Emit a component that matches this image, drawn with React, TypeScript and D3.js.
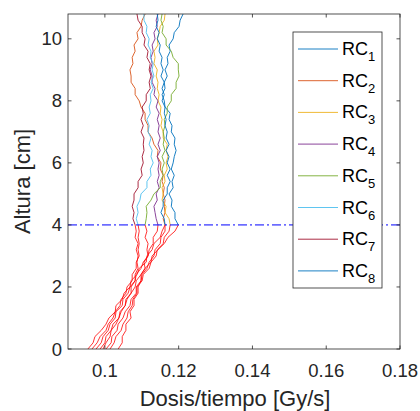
import React from "react";
import * as d3 from "d3";

// Heights (cm)
const alturas = [0,0.2,0.4,0.6,0.8,1,1.2,1.4,1.6,1.8,2,2.2,2.4,2.6,2.8,3,3.2,3.4,3.6,3.8,4,
  4.2,4.4,4.6,4.8,5,5.2,5.4,5.6,5.8,6,6.2,6.4,6.6,6.8,7,7.2,7.4,7.6,7.8,8,8.2,8.4,8.6,8.8,9,9.2,9.4,9.6,9.8,10,10.2,10.4,10.6,10.8];

// Dose rate (Gy/s) per series at each height
const rc1 = [0.0995,0.1003,0.1014,0.1017,0.1030,0.1038,0.1044,0.1055,0.1060,0.1071,0.1082,0.1085,0.1098,0.1109,0.1125,0.1128,0.1144,0.1161,0.1171,0.1190,0.1199,
  0.1190,0.1190,0.1180,0.1182,0.1174,0.1185,0.1182,0.1188,0.1180,0.1185,0.1188,0.1193,0.1188,0.1190,0.1180,0.1182,0.1174,0.1177,0.1163,0.1161,0.1155,0.1163,0.1161,0.1169,0.1163,0.1171,0.1169,0.1177,0.1174,0.1185,0.1188,0.1201,0.1204,0.1212];
const rc2 = [0.0954,0.0968,0.0973,0.0990,0.1003,0.1011,0.1028,0.1030,0.1047,0.1052,0.1068,0.1071,0.1087,0.1093,0.1112,0.1114,0.1128,0.1133,0.1150,0.1155,0.1163,
  0.1158,0.1163,0.1161,0.1163,0.1158,0.1161,0.1155,0.1158,0.1150,0.1152,0.1142,0.1144,0.1133,0.1128,0.1117,0.1117,0.1109,0.1109,0.1098,0.1093,0.1082,0.1082,0.1071,0.1071,0.1068,0.1076,0.1074,0.1082,0.1079,0.1090,0.1087,0.1098,0.1101,0.1109];
const rc3 = [0.1014,0.1025,0.1030,0.1044,0.1049,0.1060,0.1063,0.1074,0.1076,0.1087,0.1087,0.1101,0.1104,0.1120,0.1125,0.1139,0.1142,0.1158,0.1161,0.1174,0.1177,
  0.1174,0.1163,0.1166,0.1155,0.1158,0.1155,0.1163,0.1161,0.1169,0.1166,0.1171,0.1166,0.1169,0.1158,0.1158,0.1152,0.1155,0.1150,0.1152,0.1144,0.1147,0.1142,0.1144,0.1139,0.1142,0.1133,0.1136,0.1133,0.1144,0.1142,0.1147,0.1150,0.1161,0.1163];
const rc4 = [0.0976,0.0990,0.0995,0.1009,0.1014,0.1028,0.1030,0.1047,0.1049,0.1063,0.1068,0.1082,0.1085,0.1098,0.1104,0.1117,0.1120,0.1131,0.1131,0.1142,0.1144,
  0.1139,0.1136,0.1133,0.1142,0.1139,0.1147,0.1142,0.1147,0.1144,0.1147,0.1142,0.1150,0.1144,0.1150,0.1144,0.1147,0.1142,0.1147,0.1139,0.1144,0.1133,0.1136,0.1128,0.1128,0.1123,0.1128,0.1125,0.1131,0.1128,0.1136,0.1133,0.1142,0.1139,0.1144];
const rc5 = [0.1036,0.1047,0.1047,0.1057,0.1057,0.1071,0.1068,0.1079,0.1079,0.1090,0.1090,0.1098,0.1098,0.1109,0.1106,0.1117,0.1114,0.1117,0.1109,0.1114,0.1109,
  0.1112,0.1114,0.1112,0.1125,0.1133,0.1150,0.1150,0.1158,0.1155,0.1161,0.1155,0.1163,0.1158,0.1161,0.1158,0.1163,0.1161,0.1169,0.1169,0.1180,0.1180,0.1193,0.1193,0.1201,0.1199,0.1199,0.1185,0.1180,0.1166,0.1166,0.1155,0.1158,0.1152,0.1155];
const rc6 = [0.0965,0.0979,0.0987,0.1003,0.1009,0.1022,0.1028,0.1041,0.1044,0.1057,0.1060,0.1074,0.1074,0.1085,0.1085,0.1093,0.1090,0.1093,0.1090,0.1093,0.1090,
  0.1085,0.1090,0.1087,0.1095,0.1098,0.1114,0.1114,0.1125,0.1123,0.1131,0.1125,0.1128,0.1120,0.1125,0.1117,0.1120,0.1114,0.1123,0.1120,0.1125,0.1123,0.1131,0.1125,0.1133,0.1128,0.1131,0.1123,0.1125,0.1117,0.1120,0.1112,0.1114,0.1106,0.1106];
const rc7 = [0.0987,0.1000,0.1003,0.1017,0.1022,0.1038,0.1041,0.1055,0.1057,0.1071,0.1071,0.1082,0.1082,0.1090,0.1087,0.1090,0.1085,0.1090,0.1082,0.1085,0.1082,
  0.1076,0.1079,0.1074,0.1079,0.1079,0.1090,0.1090,0.1101,0.1098,0.1104,0.1101,0.1106,0.1104,0.1106,0.1098,0.1104,0.1098,0.1104,0.1101,0.1112,0.1112,0.1123,0.1120,0.1125,0.1120,0.1123,0.1114,0.1117,0.1106,0.1109,0.1101,0.1101,0.1090,0.1087];
const rc8 = [0.1003,0.1017,0.1019,0.1033,0.1036,0.1049,0.1055,0.1068,0.1071,0.1085,0.1085,0.1098,0.1101,0.1114,0.1120,0.1133,0.1136,0.1150,0.1152,0.1163,0.1163,
  0.1161,0.1152,0.1158,0.1158,0.1169,0.1169,0.1177,0.1169,0.1177,0.1169,0.1174,0.1166,0.1174,0.1166,0.1169,0.1163,0.1166,0.1161,0.1163,0.1155,0.1161,0.1155,0.1161,0.1152,0.1158,0.1152,0.1155,0.1147,0.1150,0.1142,0.1147,0.1139,0.1144,0.1142];

const nombres = ["1", "2", "3", "4", "5", "6", "7", "8"];
const colores = ["#0072BD", "#D95319", "#EDB120", "#7E2F8E", "#77AC30", "#4DBEEE", "#A2142F", "#0072BD"];
const valores = [rc1, rc2, rc3, rc4, rc5, rc6, rc7, rc8];

const xTicks = [0.1, 0.12, 0.14, 0.16, 0.18];
const xTickLabels = ["0.1", "0.12", "0.14", "0.16", "0.18"];
const yTicks = [0, 2, 4, 6, 8, 10];
const umbral = 4;
const xDomain = [0.09, 0.18];
const yDomain = [0, 10.8];

const FONT = "'Liberation Sans', Arial, Helvetica, sans-serif";
const AX = "#262626";

export default function App() {
  const W = 420, H = 411;
  const L = 68, R = 400, T = 14, B = 349;
  const x = d3.scaleLinear().domain(xDomain).range([L, R]);
  const y = d3.scaleLinear().domain(yDomain).range([B, T]);
  const line = d3.line<[number, number]>().x(d => x(d[0])).y(d => y(d[1]));

  const paths = valores.map((vals, k) => {
    const pts: [number, number][] = vals.map((v, i) => [v, alturas[i]]);
    const lower = pts.filter(p => p[1] <= umbral);
    const upper = pts.filter(p => p[1] >= umbral);
    return { lower: line(lower) || "", upper: line(upper) || "", color: colores[k] };
  });

  const legX = 293, legY = 32, legW = 89, legH = 256;
  const rowH = 31.7;

  return (
    <svg width={W} height={H} style={{ position: "absolute", left: 0, top: 0, background: "#fff" }}
      fontFamily={FONT}>
      <defs>
        <clipPath id="plotclip">
          <rect x={L} y={T} width={R - L} height={B - T} />
        </clipPath>
      </defs>
      <rect x={0} y={0} width={W} height={H} fill="#fff" />
      <g clipPath="url(#plotclip)" fill="none">
        {paths.map((p, k) => (
          <path key={"l" + k} d={p.lower} stroke="#FF0000" strokeWidth={0.8} />
        ))}
        {paths.map((p, k) => (
          <path key={"u" + k} d={p.upper} stroke={p.color} strokeWidth={0.9} />
        ))}
        <line x1={L} x2={R} y1={y(umbral)} y2={y(umbral)} stroke="#0000FF" strokeWidth={1}
          strokeDasharray="9,3,2,3" />
      </g>
      {/* axes box */}
      <rect x={L} y={T} width={R - L} height={B - T} fill="none" stroke={AX} strokeWidth={0.8} />
      {xTicks.map((t, i) => (
        <g key={"xt" + i}>
          <line x1={x(t)} x2={x(t)} y1={B} y2={B - 3.5} stroke={AX} strokeWidth={0.8} />
          <line x1={x(t)} x2={x(t)} y1={T} y2={T + 3.5} stroke={AX} strokeWidth={0.8} />
          <text x={x(t)} y={377} textAnchor="middle" fontSize={18.5} fill={AX}>{xTickLabels[i]}</text>
        </g>
      ))}
      {yTicks.map((t, i) => (
        <g key={"yt" + i}>
          <line x1={L} x2={L + 3.5} y1={y(t)} y2={y(t)} stroke={AX} strokeWidth={0.8} />
          <line x1={R} x2={R - 3.5} y1={y(t)} y2={y(t)} stroke={AX} strokeWidth={0.8} />
          <text x={62} y={y(t) + 6.5} textAnchor="end" fontSize={18.5} fill={AX}>{String(t)}</text>
        </g>
      ))}
      <text x={235} y={406} textAnchor="middle" fontSize={22} fill={AX}>Dosis/tiempo [Gy/s]</text>
      <text transform={`translate(30,${(T + B) / 2}) rotate(-90)`} textAnchor="middle" fontSize={22} fill={AX}>Altura [cm]</text>
      {/* legend */}
      <rect x={legX} y={legY} width={legW} height={legH} fill="#fff" stroke={AX} strokeWidth={0.8} />
      {nombres.map((n, k) => {
        const cy = legY + 17 + k * rowH;
        return (
          <g key={"lg" + k}>
            <line x1={298} x2={338} y1={cy} y2={cy} stroke={colores[k]} strokeWidth={0.9} />
            <text x={342} y={cy + 6} fontSize={18} fill="#000">RC<tspan fontSize={13} dy={6}>{n}</tspan></text>
          </g>
        );
      })}
    </svg>
  );
}
